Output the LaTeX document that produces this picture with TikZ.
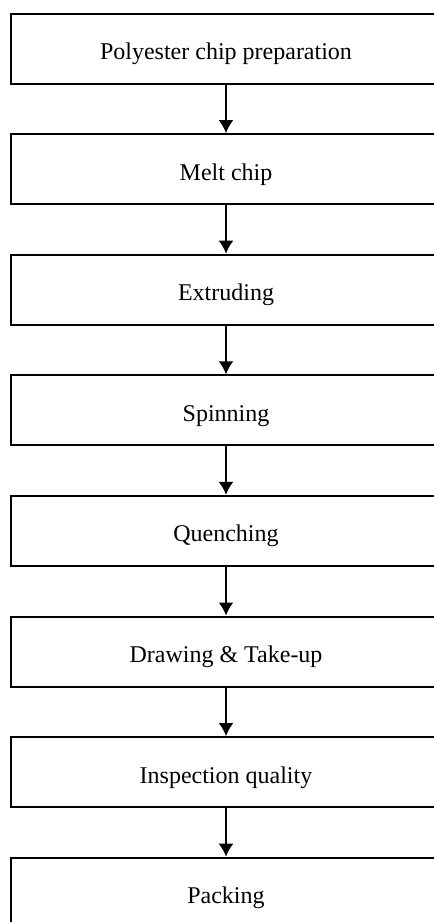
\documentclass[tikz,border=0pt]{standalone}
\usepackage{fontspec}
\setmainfont{Liberation Serif}
\usetikzlibrary{arrows.meta}
\begin{document}
\begin{tikzpicture}[x=0.5pt,y=-0.5pt,
		stepbox/.style={draw,line width=1pt,minimum width=215.5pt,minimum height=35pt,inner sep=0pt,text height=13pt,text depth=2pt,font=\fontsize{12}{14}\selectfont},
		flow/.style={line width=1pt,-{Latex[length=6.5pt,width=7.5pt]}}]
		\clip (0,0) rectangle (434,922);
		\foreach \n/\t in {0/Polyester chip preparation, 1/Melt chip, 2/Extruding, 3/Spinning, 4/Quenching, 5/Drawing \& Take-up, 6/Inspection quality, 7/Packing}{
			\node[stepbox] (s\n) at (226,{48.5+120.6*\n}) {\t};
		}
		
		\foreach \a [count=\b] in {0,...,6}{
			\draw[flow] (s\a) -- (s\b);
		}
		\end{tikzpicture}
\end{document}
